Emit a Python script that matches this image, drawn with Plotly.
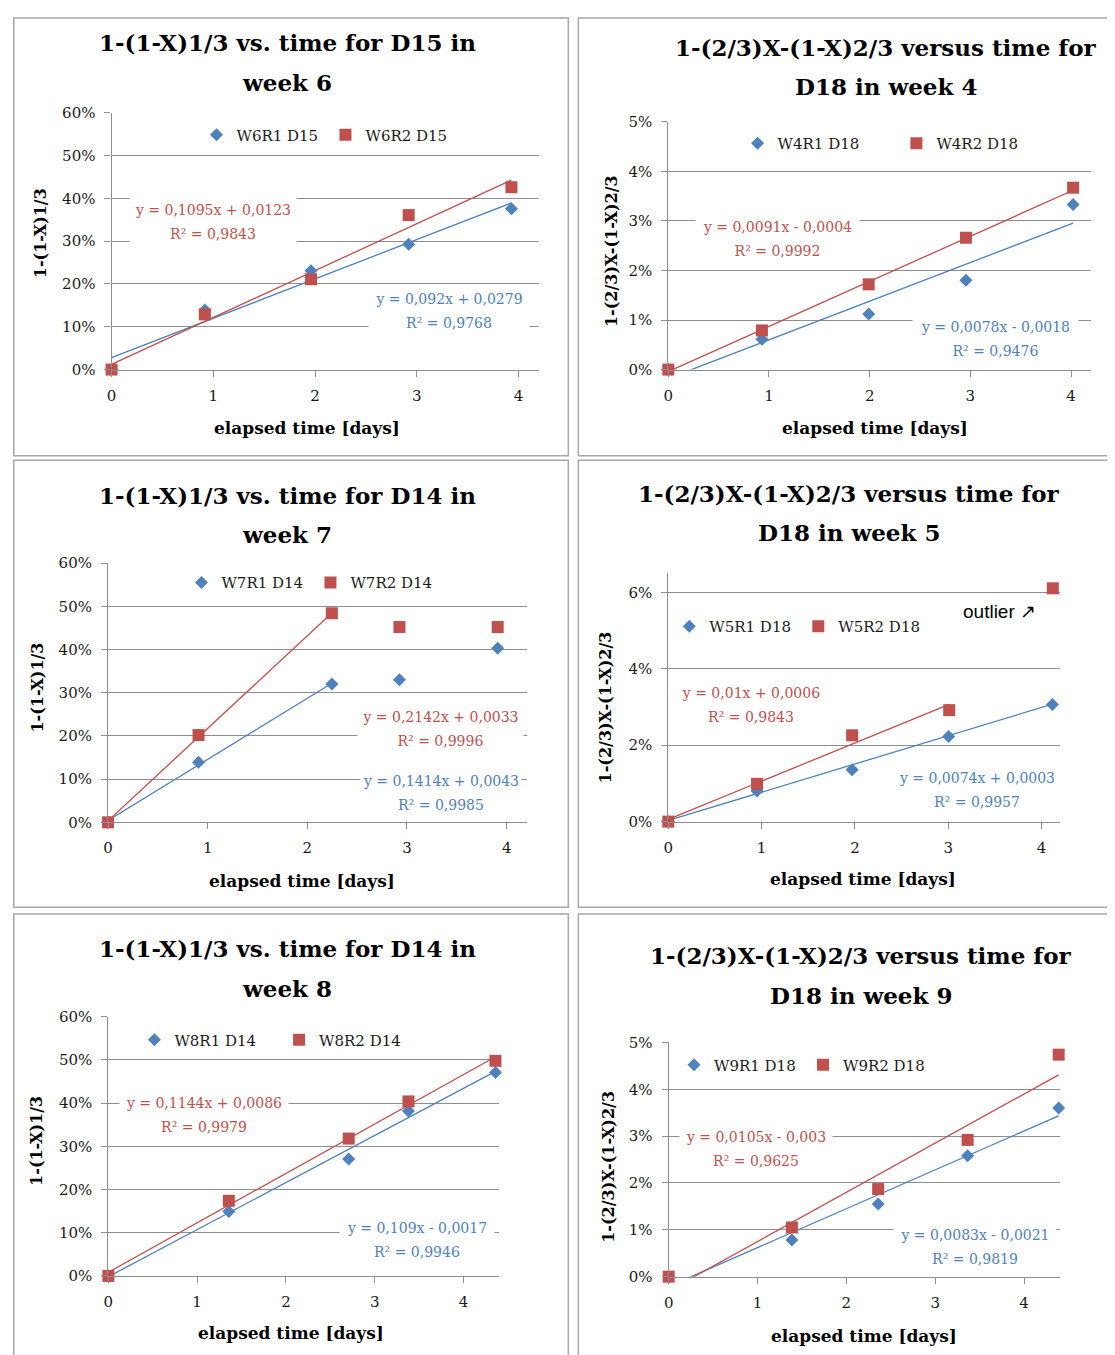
import plotly.graph_objects as go

# ---------------- data ----------------
# Panel 1: week 6, D15  -- 1-(1-X)^1/3
days_w6 = [0, 0.917, 1.96, 2.92, 3.93]
w6r1_d15 = [0, 0.139, 0.231, 0.293, 0.376]
w6r2_d15 = [0, 0.129, 0.211, 0.361, 0.426]

# Panel 2: week 4, D18  -- 1-(2/3)X-(1-X)^2/3
days_w4 = [0, 0.93, 1.99, 2.956, 4.02]
w4r1_d18 = [0, 0.0061, 0.0112, 0.0180, 0.0333]
w4r2_d18 = [0, 0.0079, 0.0172, 0.0266, 0.0367]

# Panel 3: week 7, D14
days_w7 = [0, 0.908, 2.246, 2.924, 3.91]
w7r1_d14 = [0, 0.139, 0.320, 0.330, 0.403]
w7r2_d14 = [0, 0.202, 0.484, 0.452, 0.452]

# Panel 4: week 5, D18
days_w5r1 = [0, 0.951, 1.97, 3.004, 4.116]
days_w5r2 = [0, 0.951, 1.97, 3.01, 4.12]
w5r1_d18 = [0, 0.0080, 0.0136, 0.0223, 0.0307]
w5r2_d18 = [0, 0.0099, 0.0226, 0.0292, 0.0611]

# Panel 5: week 8, D14
days_w8 = [0, 1.357, 2.707, 3.38, 4.36]
w8r1_d14 = [0, 0.149, 0.271, 0.382, 0.471]
w8r2_d14 = [0, 0.174, 0.318, 0.404, 0.498]

# Panel 6: week 9, D18
days_w9 = [0, 1.387, 2.358, 3.365, 4.39]
w9r1_d18 = [0, 0.0078, 0.0155, 0.0258, 0.0360]
w9r2_d18 = [0, 0.0105, 0.0187, 0.0292, 0.0474]

# Trendline equations (slope, intercept, R^2) and number of points fitted
trend_slopes = [[0.092, 0.1095], [0.0078, 0.0091], [0.1414, 0.2142],
                [0.0074, 0.01], [0.109, 0.1144], [0.0083, 0.0105]]
trend_intercepts = [[0.0279, 0.0123], [-0.0018, -0.0004], [0.0043, 0.0033],
                    [0.0003, 0.0006], [-0.0017, 0.0086], [-0.0021, -0.003]]
trend_r2 = [[0.9768, 0.9843], [0.9476, 0.9992], [0.9985, 0.9996],
            [0.9957, 0.9843], [0.9946, 0.9979], [0.9819, 0.9625]]
trend_npts = [[5, 5], [5, 5], [3, 3], [5, 4], [5, 5], [5, 5]]

series_names = [["W6R1 D15", "W6R2 D15"], ["W4R1 D18", "W4R2 D18"],
                ["W7R1 D14", "W7R2 D14"], ["W5R1 D18", "W5R2 D18"],
                ["W8R1 D14", "W8R2 D14"], ["W9R1 D18", "W9R2 D18"]]
series_x = [[days_w6, days_w6], [days_w4, days_w4], [days_w7, days_w7],
            [days_w5r1, days_w5r2], [days_w8, days_w8], [days_w9, days_w9]]
series_y = [[w6r1_d15, w6r2_d15], [w4r1_d18, w4r2_d18], [w7r1_d14, w7r2_d14],
            [w5r1_d18, w5r2_d18], [w8r1_d14, w8r2_d14], [w9r1_d18, w9r2_d18]]

panel_titles = [["1-(1-X)1/3 vs. time for D15 in", "week 6"],
                ["1-(2/3)X-(1-X)2/3 versus time for", "D18 in week 4"],
                ["1-(1-X)1/3 vs. time for D14 in", "week 7"],
                ["1-(2/3)X-(1-X)2/3 versus time for", "D18 in week 5"],
                ["1-(1-X)1/3 vs. time for D14 in", "week 8"],
                ["1-(2/3)X-(1-X)2/3 versus time for", "D18 in week 9"]]
y_titles = ["1-(1-X)1/3", "1-(2/3)X-(1-X)2/3", "1-(1-X)1/3",
            "1-(2/3)X-(1-X)2/3", "1-(1-X)1/3", "1-(2/3)X-(1-X)2/3"]
x_title = "elapsed time [days]"
y_max = [0.6, 0.05, 0.6, 0.065, 0.6, 0.05]
y_step = [0.1, 0.01, 0.1, 0.02, 0.1, 0.01]
x_max = [4.2, 4.2, 4.2, 4.2, 4.4, 4.4]

# ---------------- layout geometry ----------------
# positions below are target screen pixels; mapped to figure pixels with
# the offset/scale observed between figure and screenshot
SX, CX = 0.994, 13.0
SY, CY = 0.986, 17.0
FW, FH = 1110, 1358
BLUE, RED = "#4F81BD", "#C0504D"
GRID = "#8f8f8f"
SERIF = "DejaVu Serif"
TXT = "#1a1a1a"


def px(v):
    return ((v - CX) / SX) / FW


def py(v):
    return 1 - ((v - CY) / SY) / FH


def clampx(v):
    return min(max(v, 0.0007), 1.5)


def clampy(v):
    return min(max(v, -0.5), 1 - 0.0007)


# plot areas: x0, x1, ytop, ybottom (screen pixels)
plot_boxes = [(111.4, 538.1, 112.7, 369.3), (667.3, 1089.6, 121.7, 369.3),
              (107.9, 525.8, 562.7, 821.7), (667.3, 1058.7, 573.0, 821.0),
              (108.2, 498.3, 1016.0, 1275.0), (667.7, 1058.0, 1041.7, 1275.7)]
title_pos = [(287, 42.5, 82.5), (885, 47, 86), (287, 495, 534),
             (848, 493, 532), (287, 948, 988), (860, 955, 995)]
xtitle_pos = [(307, 428), (874, 428), (302, 880), (862, 878), (291, 1332), (863, 1335)]
ytitle_pos = [(40, 233), (610, 251), (37, 687), (605, 707), (37, 1140), (608, 1166)]
# legend: first symbol x, y, second symbol x
legend_pos = [(221.4, 135, 348), (760.5, 143.3, 919.3), (206.4, 582.3, 333),
              (697.6, 626, 816), (158.2, 1039.3, 302.9), (702, 1064.3, 821)]
# equation label boxes: (cx, cy_line1, width) for blue then red
eq_pos = [[(448, 299, 160), (213, 210, 166)],
          [(994, 327, 165), (776, 227, 163)],
          [(440, 780, 160), (440, 716, 165)],
          [(976, 777, 158), (750, 692, 150)],
          [(416, 1227, 154), (204, 1102, 168)],
          [(974, 1234, 162), (755, 1136, 152)]]

colors = [BLUE, RED]
symbols = ["diamond", "square"]
sizes = [10, 12]
MIN_ENTRY = 84


def fmt(v):
    return f"{abs(v)}".replace(".", ",")


fig = go.Figure()
annotations = []
layout = {}

for i in range(6):
    n = i + 1
    xa = "x" if n == 1 else f"x{n}"
    ya = "y" if n == 1 else f"y{n}"
    leg = "legend" if n == 1 else f"legend{n}"
    # trendlines
    for s in range(2):
        xs = series_x[i][s][: trend_npts[i][s]]
        xf = [min(xs), max(xs)]
        m, b = trend_slopes[i][s], trend_intercepts[i][s]
        fig.add_trace(go.Scatter(x=xf, y=[m * v + b for v in xf], mode="lines",
                                 line=dict(color=colors[s], width=1.3),
                                 showlegend=False, hoverinfo="skip",
                                 xaxis=xa, yaxis=ya))
    # markers
    for s in range(2):
        fig.add_trace(go.Scatter(x=series_x[i][s], y=series_y[i][s], mode="markers",
                                 name=series_names[i][s],
                                 marker=dict(symbol=symbols[s], size=sizes[s], color=colors[s],
                                             line=dict(width=0)),
                                 cliponaxis=False, legend=leg, xaxis=xa, yaxis=ya))

    x0, x1, yt, yb = plot_boxes[i]
    layout["xaxis" if n == 1 else f"xaxis{n}"] = dict(
        domain=[px(x0), px(x1)], range=[0, x_max[i]], anchor=ya,
        tick0=0, dtick=1, showgrid=False, zeroline=False,
        showline=True, linecolor=GRID, linewidth=1.2,
        ticks="outside", ticklen=6, tickcolor=GRID, tickwidth=1.2,
        tickfont=dict(family=SERIF, size=15, color=TXT), ticklabelstandoff=6)
    layout["yaxis" if n == 1 else f"yaxis{n}"] = dict(
        domain=[py(yb), py(yt)], range=[0, y_max[i]], anchor=xa,
        tick0=0, dtick=y_step[i], tickformat=".0%",
        showgrid=True, gridcolor=GRID, gridwidth=1.2, zeroline=False,
        showline=True, linecolor=GRID, linewidth=1.2,
        ticks="outside", ticklen=6, tickcolor=GRID, tickwidth=1.2,
        tickfont=dict(family=SERIF, size=15, color=TXT), ticklabelstandoff=6)

    dx, dy, sqx = legend_pos[i]
    ew = max((sqx - dx) - 45, MIN_ENTRY)
    excess = (ew + 45) - (sqx - dx)
    layout[leg] = dict(x=px(dx - 24 - excess / 2), xanchor="left", y=py(dy), yanchor="middle",
                       orientation="h", entrywidth=ew, entrywidthmode="pixels",
                       font=dict(family=SERIF, size=15, color=TXT),
                       bgcolor="rgba(0,0,0,0)", borderwidth=0, itemclick=False,
                       itemdoubleclick=False)

    # titles
    tx, ty1, ty2 = title_pos[i]
    for line, ty in zip(panel_titles[i], (ty1, ty2)):
        annotations.append(dict(x=px(tx), y=py(ty), xref="paper", yref="paper",
                                text=f"<b>{line}</b>", showarrow=False,
                                xanchor="center", yanchor="middle",
                                font=dict(family=SERIF, size=23, color="#000")))
    xtx, xty = xtitle_pos[i]
    annotations.append(dict(x=px(xtx), y=py(xty), xref="paper", yref="paper",
                            text=f"<b>{x_title}</b>", showarrow=False,
                            xanchor="center", yanchor="middle",
                            font=dict(family=SERIF, size=17, color="#000")))
    ytx, yty = ytitle_pos[i]
    annotations.append(dict(x=px(ytx), y=py(yty), xref="paper", yref="paper",
                            text=f"<b>{y_titles[i]}</b>", showarrow=False, textangle=-90,
                            xanchor="center", yanchor="middle",
                            font=dict(family=SERIF, size=16, color="#000")))
    # trendline equations
    for s in range(2):
        m, b, r2 = trend_slopes[i][s], trend_intercepts[i][s], trend_r2[i][s]
        sign = "+" if b >= 0 else "-"
        l1 = f"y = {fmt(m)}x {sign} {fmt(b)}"
        l2 = f"R² = {fmt(r2)}"
        cx, cy, bw = eq_pos[i][s]
        for k, txt in enumerate((l1, l2)):
            annotations.append(dict(x=px(cx), y=py(cy + 24 * k), xref="paper", yref="paper",
                                    text=txt, showarrow=False, xanchor="center",
                                    yanchor="middle", width=bw, height=26, borderpad=0,
                                    bgcolor="white", align="center",
                                    font=dict(family=SERIF, size=14, color=colors[s])))

annotations.append(dict(x=px(998), y=py(611), xref="paper", yref="paper",
                        text="outlier ↗", showarrow=False, xanchor="center", yanchor="middle",
                        font=dict(family="Liberation Sans", size=19, color="#000")))

# panel frames (screen pixels)
shapes = []
frames = [(7.5, 567.5, 8, 455.3), (577.5, 1130, 8, 455.3),
          (7.5, 567.5, 460, 906.7), (577.5, 1130, 460, 906.7),
          (7.5, 567.5, 913.3, 1380), (577.5, 1130, 913.3, 1380)]
for (a, b_, c, d) in frames:
    shapes.append(dict(type="rect", xref="paper", yref="paper",
                       x0=clampx(px(a)), x1=px(b_), y0=py(d), y1=clampy(py(c)),
                       line=dict(color="#a8a8a8", width=1.5), fillcolor="rgba(0,0,0,0)",
                       layer="above"))

fig.update_layout(width=FW, height=FH, margin=dict(l=0, r=0, t=0, b=0),
                  paper_bgcolor="white", plot_bgcolor="white", showlegend=True,
                  annotations=annotations, shapes=shapes, **layout)

fig.write_html("out.html")
